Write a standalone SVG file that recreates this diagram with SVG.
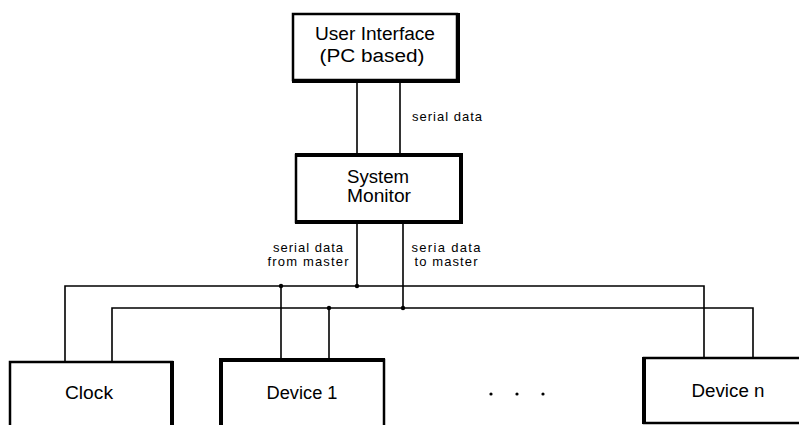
<svg xmlns="http://www.w3.org/2000/svg" width="799" height="425" viewBox="0 0 799 425">
<style>
.box{fill:#fff;stroke:#000;stroke-width:2.5}
.thick{fill:none;stroke:#000;stroke-width:4}
.t{font-family:"Liberation Sans",Arial,sans-serif;fill:#000;text-anchor:middle}
.big{font-size:18px}
.sm{font-size:13px}
.c{fill:none;stroke:#000;stroke-width:1.6}
</style>
<rect width="799" height="425" fill="#fff"/>
<g id="connectors">
<line class="c" x1="357" y1="80" x2="357" y2="154"/>
<line class="c" x1="400" y1="80" x2="400" y2="154"/>
<line class="c" x1="357" y1="222" x2="357" y2="286"/>
<line class="c" x1="403" y1="222" x2="403" y2="308"/>
<polyline class="c" points="65,361 65,286 704,286 704,357"/>
<polyline class="c" points="112,361 112,308 753,308 753,357"/>
<line class="c" x1="281" y1="286" x2="281" y2="359"/>
<line class="c" x1="329" y1="308" x2="329" y2="359"/>
<circle cx="357" cy="286" r="2.2"/>
<circle cx="281" cy="286" r="2.2"/>
<circle cx="403" cy="308" r="2.2"/>
<circle cx="329" cy="308" r="2.2"/>
<text class="t sm" x="447" y="121" textLength="70">serial data</text>
<text class="t sm" x="308" y="252" textLength="70">serial data</text>
<text class="t sm" x="308" y="266" textLength="81">from master</text>
<text class="t sm" x="446" y="252" textLength="69">seria data</text>
<text class="t sm" x="446" y="266" textLength="63">to master</text>
</g>
<g id="user-interface">
<rect class="box" x="293" y="14" width="164" height="66"/>
<polyline class="thick" points="458,13 458,81 292,81"/>
<text class="t big" x="375" y="40" textLength="120" lengthAdjust="spacingAndGlyphs">User Interface</text>
<text class="t big" x="372" y="62" textLength="105" lengthAdjust="spacingAndGlyphs">(PC based)</text>
</g>
<g id="system-monitor">
<rect class="box" x="296" y="155" width="165" height="67"/>
<polyline class="thick" points="295,155 461,155 461,222 295,222"/>
<text class="t big" x="378" y="183" textLength="62" lengthAdjust="spacingAndGlyphs">System</text>
<text class="t big" x="379" y="202" textLength="64" lengthAdjust="spacingAndGlyphs">Monitor</text>
</g>
<g id="clock">
<rect class="box" x="10" y="362" width="162" height="70"/>
<line class="thick" x1="172" y1="361" x2="172" y2="425"/>
<text class="t big" x="89" y="399" textLength="48" lengthAdjust="spacingAndGlyphs">Clock</text>
</g>
<g id="device-1">
<rect class="box" x="221" y="360" width="163" height="70"/>
<polyline class="thick" points="221,425 221,360 385,360"/>
<text class="t big" x="302" y="399" textLength="71" lengthAdjust="spacingAndGlyphs">Device 1</text>
</g>
<g id="dots">
<circle cx="491" cy="394" r="1.6"/>
<circle cx="517" cy="394" r="1.6"/>
<circle cx="543" cy="394" r="1.6"/>
</g>
<g id="device-n">
<rect class="box" x="644" y="358" width="160" height="65"/>
<line class="thick" x1="644" y1="357" x2="644" y2="424"/>
<text class="t big" x="728" y="397" textLength="73" lengthAdjust="spacingAndGlyphs">Device n</text>
</g>
</svg>
